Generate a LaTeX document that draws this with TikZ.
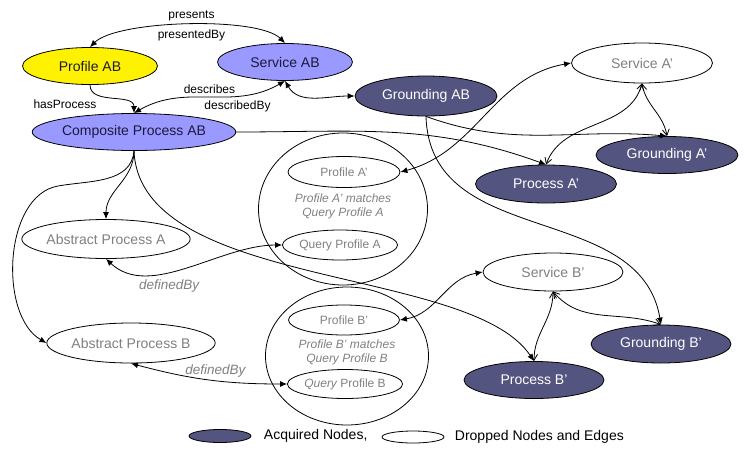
\documentclass[tikz,border=0pt]{standalone}
\usepackage{fontspec}
\setmainfont{Liberation Sans}
\usetikzlibrary{arrows.meta,shapes.geometric,positioning}
\definecolor{acqfill}{RGB}{84,84,128}
\definecolor{bluefill}{RGB}{153,153,255}
\definecolor{dropgray}{RGB}{128,128,128}
\definecolor{navytext}{RGB}{26,26,60}
\tikzset{
    %Define standard arrow tip
    >={Latex[length=7pt,width=6pt]},
    %Define style for ellipses
    base/.style={
           ellipse,
           draw=black, line width=0.8pt,
           inner sep=0pt,
           minimum width=141pt,
           minimum height=38pt},
    ownnode/.style={base, fill=bluefill, text=navytext},
    profnode/.style={base, fill=yellow, text=navytext},
    acquired/.style={base, fill=acqfill, text=white},
    dropped/.style={base, fill=white, text=dropgray},
    inner/.style={
           base,
           minimum width=112pt,
           minimum height=30pt,
           text=dropgray,
           font=\fontsize{12}{14}\selectfont},
    group/.style={ellipse, draw=black, line width=0.8pt},
    matchtxt/.style={align=center, text=dropgray,
           font=\fontsize{12}{14}\selectfont\itshape},
    % Define label styles
    lbl/.style={font=\fontsize{12}{14}\selectfont},
    deflbl/.style={text=dropgray, font=\fontsize{13.5}{15}\selectfont\itshape},
    % Define arrow styles
    pil/.style={line width=0.8pt},
    opn/.style={line width=0.8pt, >={Straight Barb[length=6pt,width=7pt]}, <->}
}

\begin{document}
\begin{tikzpicture}[x=1pt,y=-1pt,font=\fontsize{14}{16}\selectfont]
\useasboundingbox (0,0) rectangle (745,456);

\node[profnode, minimum width=135pt, minimum height=37pt] (profab) at (90,66) {Profile AB};
\node[ownnode, minimum width=135pt, minimum height=37pt] (servab) at (285,62) {Service AB};
\node[ownnode, minimum width=198pt, minimum height=37pt] (compab) at (134,132) {Composite Process AB};
\node[acquired, minimum width=142pt, minimum height=40pt] (grab) at (426,96) {Grounding AB};

\node[dropped, minimum height=40pt] (servA) at (642,63) {Service A’};
\node[acquired, minimum width=142pt, minimum height=37pt] (grA) at (667,155) {Grounding A’};
\node[acquired] (procA) at (546,184) {Process A’};

\node[group, minimum width=169pt, minimum height=152pt] (grpA) at (343,209) {};
\node[inner, minimum height=31pt] (profA) at (344,172) {Profile A’};
\node[matchtxt] (matchA) at (343,206) {Profile A’ matches\\Query Profile A};
\node[inner] (qpA) at (340,245) {Query Profile A};

\node[dropped, minimum width=140pt, minimum height=39pt] (absA) at (106,239) {Abstract Process A};
\node[dropped, minimum width=142pt, minimum height=40pt] (absB) at (131,343) {Abstract Process B};

\node[group, minimum width=163pt, minimum height=138pt] (grpB) at (347,356) {};
\node[inner, minimum width=111pt] (profB) at (344,320) {Profile B’};
\node[matchtxt] (matchB) at (347,352) {Profile B’ matches\\Query Profile B};
\node[inner, minimum width=114pt, minimum height=29pt] (qpB) at (345,384) {{\itshape Query} Profile B};

\node[dropped, minimum width=140pt] (servB) at (553,272) {Service B’};
\node[acquired, minimum width=140pt] (grB) at (661,344) {Grounding B’};
\node[acquired, minimum width=140pt, minimum height=37pt] (procB) at (534,380) {Process B’};

% legend
\node[base, fill=acqfill, minimum width=62pt, minimum height=13pt] (legacq) at (220,436) {};
\node[right=9pt of legacq] (legacqtxt) {Acquired Nodes,};
\node[base, minimum width=62pt, minimum height=12pt] (legdrop) at (413,437) {};
\node[right=7pt of legdrop] (legdroptxt) {Dropped Nodes and Edges};

\coordinate (bendB) at (58,186);

% edges of the composite service
\draw[pil] (profab.north) edge[<->, out=45, in=135, looseness=0.5]
      node[lbl, above, xshift=4pt] {presents} node[lbl, below=1pt, xshift=4pt] {presentedBy} (servab.north);
\draw[pil] (profab.south) edge[->, out=-90, in=90]
      node[lbl, pos=0.5, left=12pt, yshift=-5pt] {hasProcess} (compab.north);
\draw[pil] (compab.north) edge[<->, out=30, in=-150]
      node[lbl, above] {describes} node[lbl, below, xshift=28pt] {describedBy} (servab.south);
\draw[pil] (servab.south) edge[<->, out=-60, in=180] (grab.west);

\draw[pil] (compab.east) edge[->, out=0, in=160] (procA.north);
\draw[pil] (grab.south) edge[->, out=-20, in=175] (grA.north);
\draw[pil,->] (grab.south) .. controls (430,250) and (640,200) .. (grB.north);

\draw[pil] (compab.south) edge[->, out=-90, in=90] (absA.north);
\draw[pil,->] (compab.south) to[out=-95, in=10] (bendB) to[out=190, in=150, looseness=0.9] (absB.west);
\draw[pil,->] (compab.south) .. controls (140,290) and (470,265) .. (procB.north);

\draw[pil,<->] (absA.south) .. controls (150,300) and (220,245) .. node[deflbl, pos=0.4, below=4pt] {definedBy} (qpA.west);
\draw[pil] (absB.south) edge[<->, out=-15, in=180]
      node[deflbl, pos=0.55, above] {definedBy} (qpB.west);

% edges of the dropped services
\draw[pil] (servA.west) edge[<->, out=190, in=15] (profA.east);
\draw (servA.south) edge[opn, out=-105, in=70] (procA.north);
\draw (servA.south) edge[opn, out=-80, in=100] (grA.north);

\draw[pil] (servB.west) edge[<->, out=190, in=10] (profB.east);
\draw (servB.south) edge[opn, out=-90, in=90] (procB.north);
\draw (servB.south) edge[opn, out=-50, in=160] (grB.north);

\end{tikzpicture}
\end{document}
